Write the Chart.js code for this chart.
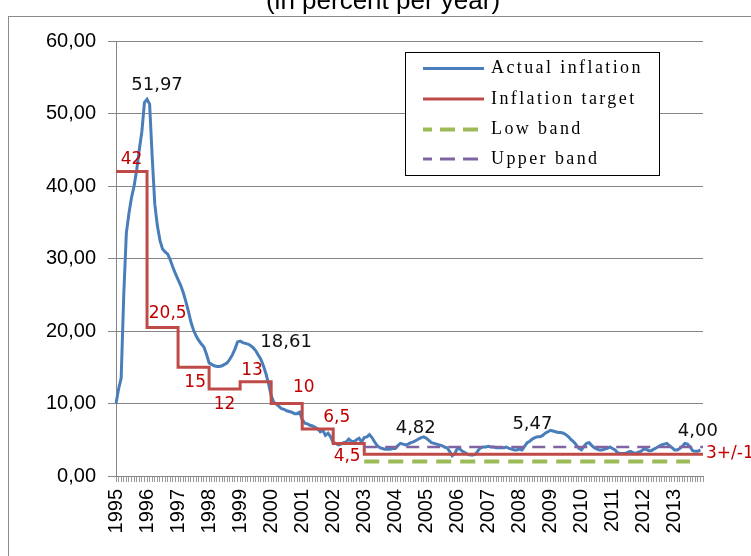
<!DOCTYPE html>
<html><head><meta charset="utf-8">
<script src="https://cdn.jsdelivr.net/npm/chart.js@4.4.1/dist/chart.umd.min.js"></script>
<style>html,body{margin:0;padding:0;background:#fff;}canvas{display:block;}</style>
</head><body>
<canvas id="c" width="751" height="556"></canvas>
<script>
// ---- data ----
const years = [1995,1996,1997,1998,1999,2000,2001,2002,2003,2004,2005,2006,2007,2008,2009,2010,2011,2012,2013];
const actualInflation = [
  10.0, 12.0, 13.5, 25.0, 33.5, 36.2, 38.4, 40.0, 42.2, 45.0, 47.5, 51.5,   // 1995
  51.97,51.3, 44.0, 37.5, 34.5, 32.5, 31.3, 30.9, 30.6, 29.8, 28.8, 27.9,   // 1996
  27.1, 26.3, 25.3, 24.1, 22.7, 21.2, 20.1, 19.3, 18.7, 18.2, 17.8, 16.8,   // 1997
  15.6, 15.4, 15.2, 15.1, 15.1, 15.2, 15.4, 15.6, 16.1, 16.7, 17.5, 18.5,   // 1998
  18.61,18.4, 18.3, 18.2, 18.0, 17.7, 17.3, 16.7, 16.1, 15.2, 14.1, 12.7,   // 1999
  11.1, 10.2, 9.9, 9.6, 9.3, 9.2, 9.0, 8.9, 8.8, 8.6, 8.6, 8.8,             // 2000
  7.8, 7.3, 7.2, 7.0, 6.9, 6.7, 6.5, 6.1, 6.3, 5.6, 5.9, 5.4,               // 2001
  4.6, 4.5, 4.3, 4.4, 4.6, 4.7, 5.1, 4.8, 4.7, 5.0, 5.2, 4.7,               // 2002
  5.3, 5.4, 5.7, 5.3, 4.7, 4.2, 3.9, 3.8, 3.7, 3.7, 3.7, 3.8,               // 2003
  3.8, 4.2, 4.5, 4.4, 4.3, 4.4, 4.6, 4.7, 4.9, 5.1, 5.3, 5.4,               // 2004
  5.2, 4.9, 4.6, 4.5, 4.4, 4.3, 4.2, 4.0, 3.9, 3.4, 2.8, 3.1,               // 2005
  3.8, 3.7, 3.4, 3.2, 3.0, 2.9, 2.9, 3.0, 3.5, 3.9, 4.0, 4.0,               // 2006
  4.1, 4.0, 4.0, 3.9, 3.9, 3.9, 3.9, 4.0, 3.8, 3.7, 3.6, 3.6,               // 2007
  3.7, 3.6, 4.1, 4.6, 4.8, 5.1, 5.3, 5.4, 5.4, 5.6, 5.9, 6.1,               // 2008
  6.3, 6.2, 6.1, 6.0, 6.0, 5.9, 5.7, 5.4, 5.0, 4.7, 4.3, 3.8,               // 2009
  3.6, 4.1, 4.5, 4.6, 4.2, 3.9, 3.7, 3.6, 3.6, 3.7, 3.8, 4.0,               // 2010
  3.8, 3.6, 3.2, 3.1, 3.1, 3.1, 3.3, 3.4, 3.2, 3.1, 3.3, 3.4,               // 2011
  3.7, 3.7, 3.5, 3.5, 3.7, 3.9, 4.1, 4.3, 4.4, 4.5, 4.2, 3.9,               // 2012
  3.6, 3.6, 3.8, 4.1, 4.5, 4.4, 4.0, 3.5, 3.4, 3.4, 3.6                     // 2013
];
const targetByYear = [42, 20.5, 15, 12, 13, 10, 6.5, 4.5, 3, 3, 3, 3, 3, 3, 3, 3, 3, 3, 3];
const lowBand = 2;
const upperBand = 4;
const bandFrom = '2003-01';
const lowBandTo = '2013-07';
const upperBandTo = '2013-12';
const seriesNames = ['Actual inflation', 'Inflation target', 'Low band', 'Upper band'];
const noteTexts = ['51,97','42','20,5','15','12','13','18,61','10','6,5','4,5','4,82','5,47','4,00','3+/-1'];
const noteAnchorMonth = [12, 6, 20, 31, 42, 53, 48, 73, 85, 89, 119, 168, 220, 227];
const noteAnchorValue = [51.97, 42, 20.5, 15, 12, 13, 18.61, 10, 6.5, 4.5, 5.4, 6.3, 4.5, 3];
const titleText = '(in percent per year)';

// ---- build tables ----
const months = [];
years.forEach(y => { for (let m = 1; m <= 12; m++) months.push(y + '-' + String(m).padStart(2, '0')); });
const targetPoints = years.map((y, i) => ({x: y + '-01', y: targetByYear[i]}));
targetPoints.push({x: months[months.length - 1], y: targetByYear[targetByYear.length - 1]});
const lowPoints = [{x: bandFrom, y: lowBand}, {x: lowBandTo, y: lowBand}];
const upPoints = [{x: bandFrom, y: upperBand}, {x: upperBandTo, y: upperBand}];

// ---- styles ----
const COLORS = ['#4A7EBB', '#BE4B48', '#9BBB59', '#8064A2'];
const noteStyle = [
  {dx: 10, dy: -14, c: 'k'}, {dx: 0, dy: -12, c: 'r'}, {dx: 0, dy: -14, c: 'r'}, {dx: -1, dy: 15, c: 'r'},
  {dx: 0, dy: 15.5, c: 'r'}, {dx: -1, dy: -11, c: 'r'}, {dx: 46, dy: 1, c: 'k'}, {dx: -1, dy: -16, c: 'r'},
  {dx: 1, dy: -11, c: 'r'}, {dx: 1, dy: 13, c: 'r'}, {dx: -8, dy: -9, c: 'k'}, {dx: -18, dy: -6, c: 'k'},
  {dx: 13, dy: -12, c: 'k'}, {dx: 3, dy: -1, c: 'r', left: true}
];

const decor = {
  id: 'decor',
  beforeDraw(chart) {
    const ctx = chart.ctx;
    ctx.save();
    ctx.fillStyle = '#fff';
    ctx.fillRect(0, 0, chart.width, chart.height);
    ctx.strokeStyle = '#8a8a8a';
    ctx.lineWidth = 1;
    ctx.strokeRect(8.5, 16.5, 800, 600);
    ctx.fillStyle = '#000';
    ctx.font = '26px "Liberation Sans", Arial, sans-serif';
    ctx.textAlign = 'center';
    ctx.textBaseline = 'alphabetic';
    ctx.fillText(titleText, 383, 9);
    ctx.restore();
  },
  afterDatasetsDraw(chart) {
    const ctx = chart.ctx, xs = chart.scales.x, ys = chart.scales.y;
    ctx.save();
    ctx.textBaseline = 'middle';
    noteTexts.forEach((t, i) => {
      const s = noteStyle[i];
      const px = xs.getPixelForValue(noteAnchorMonth[i]) + s.dx;
      const py = ys.getPixelForValue(noteAnchorValue[i]) + s.dy;
      ctx.fillStyle = s.c === 'r' ? '#C00000' : '#111';
      ctx.font = (s.c === 'r' ? '17px' : '18px') + ' "DejaVu Sans", sans-serif';
      ctx.textAlign = s.left ? 'left' : 'center';
      ctx.fillText(t, px, py);
    });
    ctx.restore();
  },
  afterDraw(chart) {
    const ctx = chart.ctx;
    ctx.save();
    const bx = 405.5, by = 52.5, bw = 254, bh = 123;
    ctx.fillStyle = '#fff';
    ctx.fillRect(bx, by, bw, bh);
    ctx.strokeStyle = '#000';
    ctx.lineWidth = 1;
    ctx.strokeRect(bx, by, bw, bh);
    const rows = [68.5, 99, 129.5, 159];
    const widths = [3, 3, 4, 3];
    const dashes = [[], [], [15, 8], [15, 8]];
    ctx.font = '18px "Liberation Serif", "Times New Roman", serif';
    try { ctx.letterSpacing = '2.4px'; } catch (e) {}
    ctx.textBaseline = 'middle';
    ctx.textAlign = 'left';
    seriesNames.forEach((name, i) => {
      ctx.beginPath();
      ctx.setLineDash(dashes[i]);
      ctx.lineDashOffset = dashes[i].length ? 6 : 0;
      ctx.strokeStyle = COLORS[i];
      ctx.lineWidth = widths[i];
      ctx.moveTo(423, rows[i]);
      ctx.lineTo(484, rows[i]);
      ctx.stroke();
      ctx.setLineDash([]);
      ctx.fillStyle = '#000';
      ctx.fillText(name, 491, rows[i]);
    });
    ctx.restore();
  }
};

new Chart(document.getElementById('c'), {
  type: 'line',
  data: {
    labels: months,
    datasets: [
      {label: seriesNames[0], data: actualInflation, borderColor: COLORS[0], borderWidth: 3, pointRadius: 0, tension: 0, order: 4},
      {label: seriesNames[1], data: targetPoints, stepped: 'before', borderColor: COLORS[1], borderWidth: 3, pointRadius: 0, order: 3},
      {label: seriesNames[2], data: lowPoints, borderColor: COLORS[2], borderWidth: 4, borderDash: [15, 9], pointRadius: 0, order: 2},
      {label: seriesNames[3], data: upPoints, borderColor: COLORS[3], borderWidth: 2.5, borderDash: [13, 8], pointRadius: 0, order: 1}
    ]
  },
  options: {
    responsive: false,
    animation: false,
    devicePixelRatio: 1,
    layout: {padding: {top: 41, right: 48, left: 0, bottom: 0}},
    plugins: {legend: {display: false}, tooltip: {enabled: false}},
    scales: {
      x: {
        type: 'category',
        offset: false,
        afterFit: s => { s.height = 80; },
        grid: {drawOnChartArea: false, drawTicks: true, tickLength: 6, color: '#9a9a9a'},
        border: {display: true, color: '#868686'},
        ticks: {
          autoSkip: false, maxRotation: 90, minRotation: 90, padding: 7,
          color: '#000', font: {family: '"Liberation Sans", Arial, sans-serif', size: 20},
          callback: (v, i) => (i % 12 === 0 ? String(years[i / 12]) : '')
        }
      },
      y: {
        min: 0, max: 60,
        afterFit: s => { s.width = 116; },
        grid: {color: '#868686', tickLength: 8},
        border: {display: true, color: '#868686'},
        ticks: {
          stepSize: 10, padding: 12, color: '#000',
          font: {family: '"Liberation Sans", Arial, sans-serif', size: 20},
          callback: v => v.toFixed(2).replace('.', ',')
        }
      }
    }
  },
  plugins: [decor]
});
</script>
</body></html>
